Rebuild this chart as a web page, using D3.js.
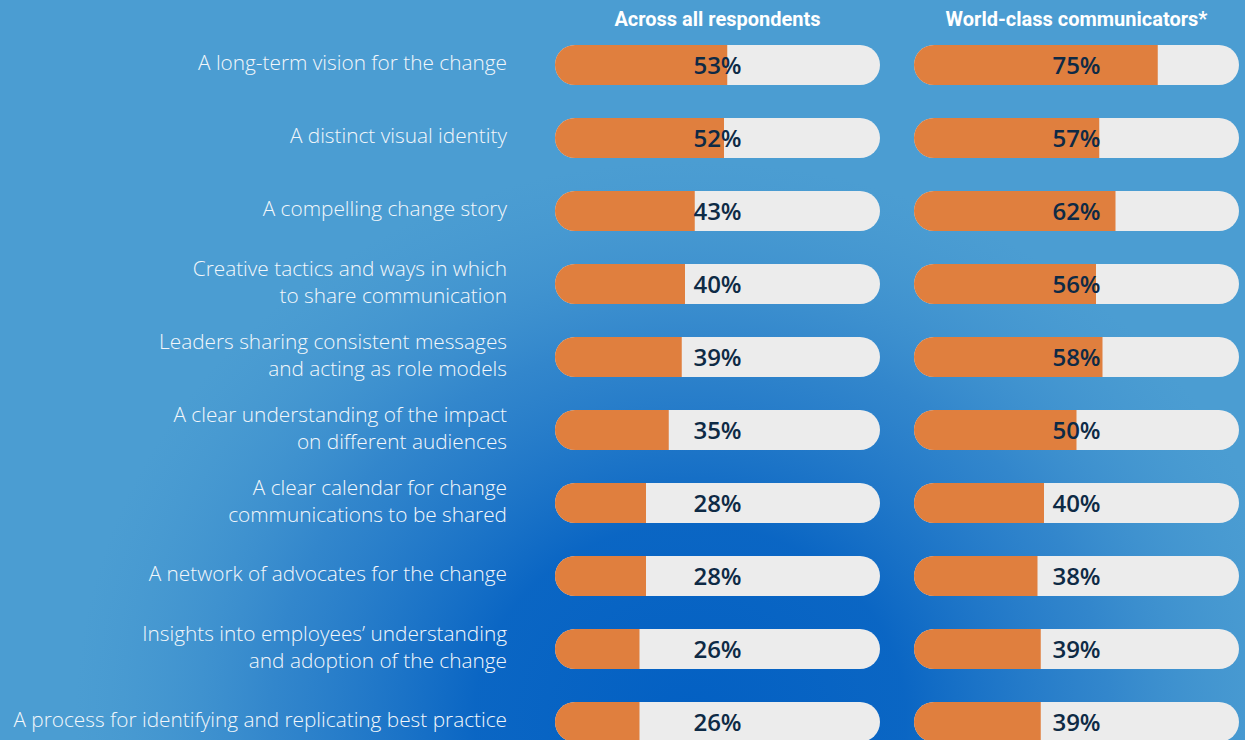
<!DOCTYPE html>
<html>
<head>
<meta charset="utf-8">
<script src="https://cdn.jsdelivr.net/npm/d3@7"></script>
<style>
  html, body { margin: 0; padding: 0; overflow: hidden; background: #4b9dd2; }
  svg { display: block; }
</style>
</head>
<body>
<svg id="chart" width="1245" height="740"></svg>
<script>
// Survey items (each label may wrap onto two lines)
const categories = [
  ["A long-term vision for the change"],
  ["A distinct visual identity"],
  ["A compelling change story"],
  ["Creative tactics and ways in which", "to share communication"],
  ["Leaders sharing consistent messages", "and acting as role models"],
  ["A clear understanding of the impact", "on different audiences"],
  ["A clear calendar for change", "communications to be shared"],
  ["A network of advocates for the change"],
  ["Insights into employees\u2019 understanding", "and adoption of the change"],
  ["A process for identifying and replicating best practice"]
];

const groups = ["Across all respondents", "World-class communicators*"];

// Share of respondents (%) selecting each item
const allRespondents = [53, 52, 43, 40, 39, 35, 28, 28, 26, 26];
const worldClass     = [75, 57, 62, 56, 58, 50, 40, 38, 39, 39];

const seriesValues = [allRespondents, worldClass];

const W = 1245, H = 740;
const svg = d3.select("#chart");
const defs = svg.append("defs");

// Background: light blue base with a deep blue glow rising from the bottom centre
const glow = defs.append("radialGradient")
  .attr("id", "glow")
  .attr("gradientUnits", "userSpaceOnUse")
  .attr("cx", 690).attr("cy", 720).attr("r", 560)
  .attr("gradientTransform", "translate(690,720) scale(1.1,1) translate(-690,-720)");
glow.append("stop").attr("offset", 0).attr("stop-color", "#0360c3").attr("stop-opacity", 1);
glow.append("stop").attr("offset", 0.35).attr("stop-color", "#0763c3").attr("stop-opacity", 0.95);
glow.append("stop").attr("offset", 0.68).attr("stop-color", "#1a70c6").attr("stop-opacity", 0.5);
glow.append("stop").attr("offset", 1).attr("stop-color", "#3a8ccd").attr("stop-opacity", 0);

svg.append("rect").attr("width", W).attr("height", H).attr("fill", "#4b9dd2");
svg.append("rect").attr("width", W).attr("height", H).attr("fill", "url(#glow)");

// Scales
const rowIds = d3.range(categories.length);
const y = d3.scaleBand().domain(rowIds).range([28.5, 28.5 + 73 * categories.length]).padding(0);
const col = d3.scaleBand().domain(d3.range(groups.length)).range([555, 1239]).paddingInner(34 / 359).paddingOuter(0);
const x = d3.scaleLinear().domain([0, 100]).range([0, col.bandwidth()]);

const barH = 40;
const rowCenter = i => y(i) + y.bandwidth() / 2;

// Column headings
svg.append("g").selectAll("text")
  .data(groups)
  .join("text")
  .attr("x", (d, i) => col(i) + col.bandwidth() / 2)
  .attr("y", 26)
  .attr("text-anchor", "middle")
  .attr("fill", "#ffffff")
  .style("font-family", "Roboto, 'Open Sans', sans-serif")
  .style("font-weight", 700)
  .style("font-size", "20px")
  .text(d => d);

// Row labels, right-aligned against the bars
const labelG = svg.append("g");
categories.forEach((lines, i) => {
  const cy = rowCenter(i) - 2;
  const t = labelG.append("text")
    .attr("text-anchor", "end")
    .attr("fill", "#f3f7fb")
    .style("font-family", "'Open Sans', sans-serif")
    .style("font-weight", 300)
    .style("font-size", "20.8px");
  lines.forEach((line, j) => {
    t.append("tspan")
      .attr("x", 507)
      .attr("y", cy + (j - (lines.length - 1) / 2) * 27)
      .attr("dy", "0.35em")
      .text(line);
  });
});

// Pill bars
groups.forEach((g, gi) => {
  const x0 = col(gi);
  const vals = seriesValues[gi];
  const barG = svg.append("g");
  vals.forEach((v, i) => {
    const top = rowCenter(i) - barH / 2;
    const clipId = `clip-${gi}-${i}`;
    defs.append("clipPath").attr("id", clipId)
      .append("rect")
      .attr("x", x0).attr("y", top)
      .attr("width", x(100)).attr("height", barH)
      .attr("rx", barH / 2).attr("ry", barH / 2);
    const cell = barG.append("g").attr("clip-path", `url(#${clipId})`);
    cell.append("rect")
      .attr("x", x0).attr("y", top)
      .attr("width", x(100)).attr("height", barH)
      .attr("fill", "#ececec");
    cell.append("rect")
      .attr("x", x0).attr("y", top)
      .attr("width", x(v)).attr("height", barH)
      .attr("fill", "#e07f3e");
    barG.append("text")
      .attr("x", x0 + x(50))
      .attr("y", rowCenter(i))
      .attr("dy", "0.36em")
      .attr("text-anchor", "middle")
      .attr("fill", "#0e2a45")
      .style("font-family", "'Open Sans', sans-serif")
      .style("font-weight", 600)
      .style("font-size", "24px")
      .text(v + "%");
  });
});
</script>
</body>
</html>
